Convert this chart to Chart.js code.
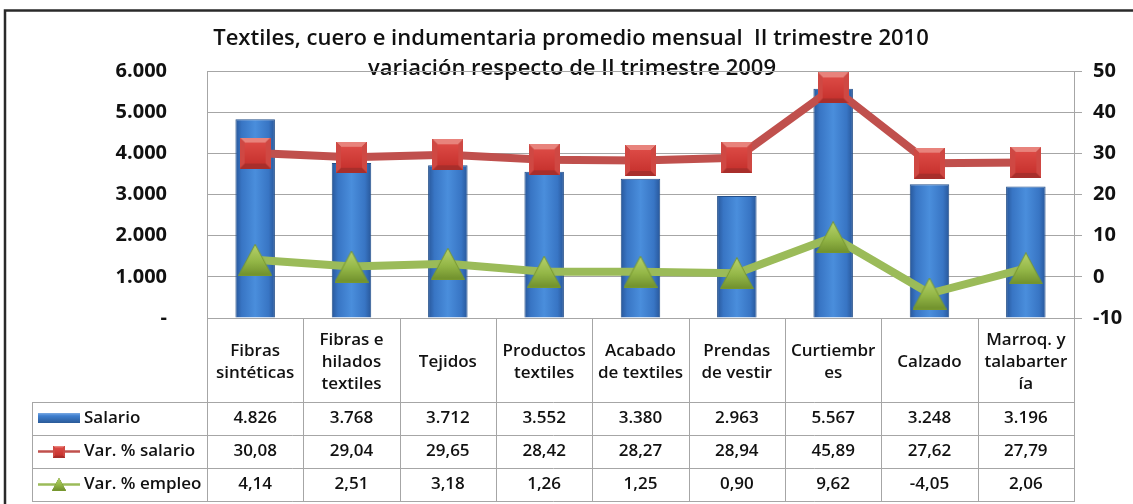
<!DOCTYPE html>
<html><head><meta charset="utf-8">
<style>html,body{margin:0;padding:0;background:#fff;}#wrap{position:relative;width:1133px;height:504px;}</style>
<script src="https://cdn.jsdelivr.net/npm/chart.js@4.4.1/dist/chart.umd.min.js"></script>
</head><body><div id="wrap"><canvas id="c" width="1133" height="504"></canvas></div>
<script>
const categories = [["Fibras","sintéticas"],["Fibras e","hilados","textiles"],["Tejidos"],["Productos","textiles"],["Acabado","de textiles"],["Prendas","de vestir"],["Curtiembr","es"],["Calzado"],["Marroq. y","talabarter","ía"]];
const salario = [4826,3768,3712,3552,3380,2963,5567,3248,3196];
const varSalario = [30.08,29.04,29.65,28.42,28.27,28.94,45.89,27.62,27.79];
const varEmpleo = [4.14,2.51,3.18,1.26,1.25,0.90,9.62,-4.05,2.06];
const seriesNames = ["Salario","Var. % salario","Var. % empleo"];
const leftTicks = ["-","1.000","2.000","3.000","4.000","5.000","6.000"];
const rightTicks = ["-10","0","10","20","30","40","50"];
const titleLines = ["Textiles, cuero e indumentaria promedio mensual  II trimestre 2010","variación respecto de II trimestre 2009"];

const FONT = "'Open Sans', 'DejaVu Sans', sans-serif";
Chart.defaults.font.family = FONT;
Chart.defaults.color = '#000';

function fmtThousands(v){ return String(v).replace(/\B(?=(\d{3})+(?!\d))/g, '.'); }
function fmtPct(v){ return v.toFixed(2).replace('.', ','); }
const tableRows = [salario.map(fmtThousands), varSalario.map(fmtPct), varEmpleo.map(fmtPct)];

// marker images (bevelled square, triangle) centred on their bounding box
function makeSquare(){
  const s = 31, c = document.createElement('canvas'); c.width = s; c.height = s;
  const x = c.getContext('2d');
  x.fillStyle = '#a82e2b'; x.fillRect(0, 0, s, s);
  const b = 5;
  x.fillStyle = '#e8837c'; x.beginPath(); x.moveTo(0,0); x.lineTo(s,0); x.lineTo(s-b,b); x.lineTo(b,b); x.closePath(); x.fill();
  x.fillStyle = '#cf4843'; x.beginPath(); x.moveTo(0,0); x.lineTo(b,b); x.lineTo(b,s-b); x.lineTo(0,s); x.closePath(); x.fill();
  x.beginPath(); x.moveTo(s,0); x.lineTo(s-b,b); x.lineTo(s-b,s-b); x.lineTo(s,s); x.closePath(); x.fill();
  const g = x.createLinearGradient(0, b, 0, s-b);
  g.addColorStop(0, '#dc4a45'); g.addColorStop(1, '#c8332f');
  x.fillStyle = g; x.fillRect(b, b, s-2*b, s-2*b);
  return c;
}
function makeTriangle(){
  const w = 34, h = 32, c = document.createElement('canvas'); c.width = w; c.height = h;
  const x = c.getContext('2d');
  const g = x.createLinearGradient(0, 0, 0, h);
  g.addColorStop(0, '#b9d46e'); g.addColorStop(0.55, '#94b747'); g.addColorStop(1, '#6f8f2c');
  x.fillStyle = g; x.strokeStyle = '#77972f'; x.lineWidth = 1;
  x.beginPath(); x.moveTo(w/2, 0.5); x.lineTo(w-0.5, h-0.5); x.lineTo(0.5, h-0.5); x.closePath(); x.fill(); x.stroke();
  return c;
}
const squareImg = makeSquare();
const triangleImg = makeTriangle();

function barGradient(ctx){
  if (ctx.type !== 'data') return '#3b78c4';
  const chart = ctx.chart, xs = chart.scales.x;
  if (!xs || !chart.chartArea) return '#3b78c4';
  const cx = xs.getPixelForValue(ctx.dataIndex);
  const w = (xs.getPixelForValue(1) - xs.getPixelForValue(0)) * 0.41;
  if (!isFinite(cx) || !isFinite(w) || w <= 0) return '#3b78c4';
  const g = chart.ctx.createLinearGradient(cx - w/2, 0, cx + w/2, 0);
  g.addColorStop(0, '#28579a'); g.addColorStop(0.16, '#3875c4'); g.addColorStop(0.5, '#4a8edc');
  g.addColorStop(0.84, '#3875c4'); g.addColorStop(1, '#28579a');
  return g;
}

const framePlugin = {
  id: 'frame',
  beforeDraw(chart){
    const ctx = chart.ctx;
    ctx.save();
    ctx.fillStyle = '#fff'; ctx.fillRect(0,0,chart.width,chart.height);
    ctx.strokeStyle = '#2a2a2a'; ctx.lineWidth = 2.5;
    ctx.beginPath(); ctx.moveTo(5, chart.height + 5); ctx.lineTo(5, 10.5); ctx.lineTo(chart.width + 5, 10.5); ctx.stroke();
    ctx.fillStyle = '#111';
    ctx.font = "600 22px " + FONT;
    ctx.textAlign = 'center'; ctx.textBaseline = 'alphabetic';
    ctx.fillText(titleLines[0], 571, 45);
    ctx.fillText(titleLines[1], 572, 75);
    ctx.restore();
  },
  afterDraw(chart){
    const ctx = chart.ctx, xs = chart.scales.x, area = chart.chartArea;
    const n = categories.length;
    const w = xs.getPixelForValue(1) - xs.getPixelForValue(0);
    const rowYs = [402, 435, 468, 501];
    ctx.save();
    ctx.strokeStyle = '#a6a6a6'; ctx.lineWidth = 1;
    ctx.beginPath();
    for (let i = 0; i <= n; i++){
      const X = Math.round(xs.getPixelForValue(0) - w/2 + i*w) + 0.5;
      ctx.moveTo(X, area.bottom); ctx.lineTo(X, rowYs[3]);
    }
    ctx.moveTo(32.5, rowYs[0]); ctx.lineTo(32.5, rowYs[3]);
    rowYs.forEach(y => { ctx.moveTo(32, y + 0.5); ctx.lineTo(area.right + 1, y + 0.5); });
    ctx.stroke();
    const cy = [418.5, 451.5, 484.5];
    const g = ctx.createLinearGradient(0, 412, 0, 423);
    g.addColorStop(0, '#8fb8ea'); g.addColorStop(0.35, '#3f7fcf'); g.addColorStop(1, '#2a5a98');
    ctx.fillStyle = g; ctx.fillRect(38, 413, 42, 10);
    ctx.lineWidth = 2.5;
    ctx.strokeStyle = '#c0504d'; ctx.beginPath(); ctx.moveTo(38, cy[1]); ctx.lineTo(80, cy[1]); ctx.stroke();
    ctx.drawImage(squareImg, 53, cy[1]-6, 12, 12);
    ctx.strokeStyle = '#9bbb59'; ctx.beginPath(); ctx.moveTo(38, cy[2]); ctx.lineTo(80, cy[2]); ctx.stroke();
    ctx.drawImage(triangleImg, 52, cy[2]-7, 14, 13);
    ctx.fillStyle = '#111';
    ctx.font = "600 17px " + FONT;
    ctx.textBaseline = 'middle'; ctx.textAlign = 'left';
    seriesNames.forEach((s, r) => ctx.fillText(s, 84, cy[r]));
    ctx.textAlign = 'center';
    tableRows.forEach((row, r) => row.forEach((t, i) => ctx.fillText(t, xs.getPixelForValue(i), cy[r])));
    ctx.restore();
  }
};

new Chart(document.getElementById('c'), {
  type: 'bar',
  data: {
    labels: categories,
    datasets: [
      { type: 'line', label: seriesNames[2], data: varEmpleo, yAxisID: 'y1', order: 1,
        borderColor: '#9bbb59', borderWidth: 8, tension: 0,
        pointStyle: triangleImg, pointRadius: 16 },
      { type: 'line', label: seriesNames[1], data: varSalario, yAxisID: 'y1', order: 2,
        borderColor: '#c0504d', borderWidth: 8, tension: 0,
        pointStyle: squareImg, pointRadius: 16 },
      { type: 'bar', label: seriesNames[0], data: salario, yAxisID: 'y', order: 3,
        backgroundColor: barGradient, borderColor: '#24508a', borderWidth: 1,
        categoryPercentage: 1, barPercentage: 0.41 }
    ]
  },
  options: {
    responsive: false, animation: false, events: [],
    layout: { padding: { top: 71, left: 0, right: 0, bottom: 0 } },
    plugins: { legend: { display: false }, tooltip: { enabled: false }, title: { display: false } },
    scales: {
      x: {
        offset: true,
        grid: { display: false },
        border: { display: false },
        ticks: { autoSkip: false, maxRotation: 0, minRotation: 0, crossAlign: 'center', padding: 14,
          color: '#111', font: { size: 17, weight: '600', lineHeight: 1.294 } },
        afterFit(s){ s.height = 186; }
      },
      y: {
        position: 'left', min: 0, max: 6000,
        ticks: { stepSize: 1000, padding: 40, color: '#111', font: { size: 20, weight: 'bold' },
          callback: (v, i) => leftTicks[i] },
        grid: { color: '#a6a6a6', drawTicks: false, lineWidth: 1 },
        border: { display: true, color: '#a6a6a6' },
        afterFit(s){ s.width = 207; }
      },
      y1: {
        position: 'right', min: -10, max: 50,
        ticks: { stepSize: 10, padding: 11, color: '#111', font: { size: 20, weight: 'bold' },
          callback: (v, i) => rightTicks[i] },
        grid: { drawOnChartArea: false, drawTicks: true, tickLength: 8, color: '#a6a6a6' },
        border: { display: true, color: '#a6a6a6' },
        afterFit(s){ s.width = 59; }
      }
    }
  },
  plugins: [framePlugin]
});
</script></body></html>
